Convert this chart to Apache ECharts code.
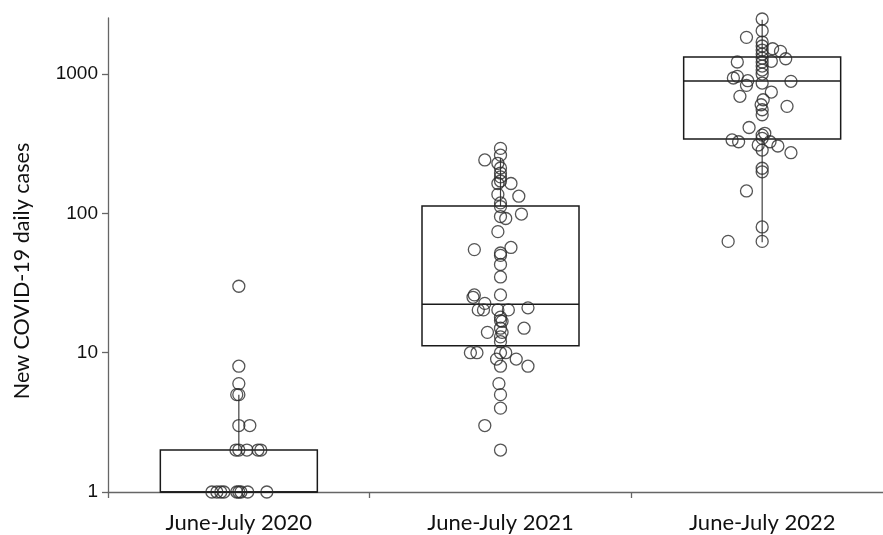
<!DOCTYPE html>
<html>
<head>
<meta charset="utf-8">
<script src="https://cdn.jsdelivr.net/npm/echarts@6/dist/echarts.min.js"></script>
<style>
  html, body { margin: 0; padding: 0; background: #fff; }
  #chart { width: 883px; height: 535px; }
</style>
</head>
<body>
<div id="chart"></div>
<script>
  var categories = ['June-July 2020', 'June-July 2021', 'June-July 2022'];
  var yTicks = [1, 10, 100, 1000];
  var yTitle = 'New COVID-19 daily cases';

  // box rows: [low whisker, q1, median, q3, high whisker]
  var box2020 = [1, 1, 1, 2, 5];
  var box2021 = [11.2, 11.2, 22.3, 113, 250];
  var box2022 = [62, 342, 892, 1327, 2455];

  // daily cases, with horizontal jitter in category widths
  var cases2020  = [30, 8, 6, 5, 5, 3, 3, 2, 2, 2, 2, 2, 1, 1, 1, 1, 1, 1, 1, 1, 1];
  var jitter2020 = [0, 0, 0, -0.008, 0, 0, 0.042, -0.011, 0, 0.031, 0.073, 0.084,
                    -0.103, -0.084, -0.069, -0.057, -0.008, 0, 0.008, 0.034, 0.107];

  var cases2021  = [293, 262, 242, 229, 212, 195, 183, 171, 164, 164, 137, 133, 119, 112, 95, 92, 99,
                    74, 55, 57, 52, 50, 43, 35, 26, 26, 25, 22.6, 20.3, 20.3, 20.3, 20.3, 21,
                    18, 17, 16.8, 15, 14, 14, 15, 13, 12, 10, 10, 10, 10, 9, 9, 8, 8, 6, 5, 4, 3, 2];
  var jitter2021 = [0, 0, -0.06, -0.01, 0, 0, 0, 0, -0.01, 0.04, -0.01, 0.07, 0, 0, 0, 0.02, 0.08,
                    -0.01, -0.1, 0.04, 0, 0, 0, 0, -0.1, 0, -0.105, -0.06, -0.085, -0.065, -0.01, 0.03, 0.105,
                    0, 0, 0.006, 0, 0.006, -0.05, 0.09, 0, 0, -0.115, -0.09, 0, 0.02, -0.015, 0.06, 0, 0.105,
                    -0.006, 0, 0, -0.06, 0];

  var cases2022  = [2488, 2050, 1837, 1700, 1592, 1489, 1394, 1305, 1222, 1143, 1070, 1001,
                    1522, 1458, 1290, 1236, 1222, 938, 964, 897, 831, 863, 888, 744, 693, 655, 603,
                    555, 511, 587, 414, 376, 365, 346, 337, 327, 310, 285, 327, 305, 273, 211, 199,
                    145, 80, 63, 63];
  var jitter2022 = [0, 0, -0.06, 0, 0, 0, 0, 0, 0, 0, 0, 0,
                    0.04, 0.07, 0.09, 0.035, -0.095, -0.11, -0.095, -0.055, -0.06, 0, 0.11, 0.035, -0.085, 0.004, -0.004,
                    0, 0, 0.095, -0.05, 0.01, 0, 0, -0.115, -0.09, -0.015, 0, 0.03, 0.06, 0.11, 0, 0,
                    -0.06, 0, -0.13, 0];

  var boxes = [box2020, box2021, box2022];
  var allCases = [cases2020, cases2021, cases2022];
  var allJitter = [jitter2020, jitter2021, jitter2022];

  var boxData = boxes.map(function (b, i) {
    return [i + 0.5].concat(b);
  });

  var pointData = [];
  allCases.forEach(function (list, i) {
    list.forEach(function (v, j) {
      pointData.push([i + 0.5 + allJitter[i][j], v]);
    });
  });

  var chart = echarts.init(document.getElementById('chart'));

  var option = {
    animation: false,
    grid: {
      left: 108,
      top: 18,
      width: 785,
      height: 474,
      containLabel: false,
      outerBoundsMode: 'none'
    },
    graphic: [{
      type: 'text',
      x: 22,
      y: 271,
      rotation: Math.PI / 2,
      style: {
        text: yTitle,
        fill: '#111',
        font: '21.5px Lato',
        align: 'center',
        verticalAlign: 'middle'
      }
    }],
    xAxis: [{
      type: 'category',
      data: categories,
      boundaryGap: true,
      axisLine: { lineStyle: { color: '#666', width: 1.3 } },
      axisTick: { show: true, length: 6, lineStyle: { color: '#666', width: 1.3 } },
      axisLabel: {
        color: '#111',
        fontSize: 22,
        fontFamily: 'Lato',
        margin: 20
      },
      splitLine: { show: false }
    }, {
      type: 'value',
      min: 0,
      max: 3,
      show: false
    }],
    yAxis: {
      type: 'log',
      logBase: 10,
      min: 1,
      max: 2530,
      axisLine: { show: true, lineStyle: { color: '#666', width: 1.3 } },
      axisTick: { show: true, length: 6, customValues: yTicks, lineStyle: { color: '#666', width: 1.3 } },
      axisLabel: {
        color: '#111',
        fontSize: 19,
        fontFamily: 'Liberation Sans',
        margin: 10,
        customValues: yTicks,
        formatter: function (v) { return String(v); }
      },
      splitLine: { show: false }
    },
    series: [{
      type: 'custom',
      xAxisIndex: 1,
      data: boxData,
      encode: { x: 0, y: [1, 2, 3, 4, 5] },
      renderItem: function (params, api) {
        var c = api.value(0);
        var low = api.coord([c, api.value(1)]);
        var q1L = api.coord([c - 0.3, api.value(2)]);
        var med = api.coord([c, api.value(3)]);
        var q3R = api.coord([c + 0.3, api.value(4)]);
        var high = api.coord([c, api.value(5)]);
        var q1 = api.coord([c, api.value(2)]);
        var q3 = api.coord([c, api.value(4)]);
        var boxStyle = { stroke: '#1a1a1a', lineWidth: 1.5, fill: 'none' };
        var whiskStyle = { stroke: '#404040', lineWidth: 1.2 };
        var kids = [];
        if (high[1] < q3[1]) {
          kids.push({ type: 'line', shape: { x1: high[0], y1: high[1], x2: q3[0], y2: q3[1] }, style: whiskStyle });
        }
        if (low[1] > q1[1]) {
          kids.push({ type: 'line', shape: { x1: q1[0], y1: q1[1], x2: low[0], y2: low[1] }, style: whiskStyle });
        }
        kids.push({
          type: 'rect',
          shape: { x: q1L[0], y: q3R[1], width: q3R[0] - q1L[0], height: q1L[1] - q3R[1] },
          style: boxStyle
        });
        kids.push({
          type: 'line',
          shape: { x1: q1L[0], y1: med[1], x2: q3R[0], y2: med[1] },
          style: { stroke: '#1a1a1a', lineWidth: 1.5 }
        });
        return { type: 'group', children: kids };
      },
      z: 2
    }, {
      type: 'scatter',
      xAxisIndex: 1,
      data: pointData,
      symbol: 'circle',
      symbolSize: 12,
      itemStyle: {
        color: 'rgba(0,0,0,0)',
        borderColor: '#2a2a2a',
        borderWidth: 1.3
      },
      z: 3
    }]
  };

  chart.setOption(option);

  window.addEventListener('resize', function () {
    chart.resize();
  });
</script>
</body>
</html>
